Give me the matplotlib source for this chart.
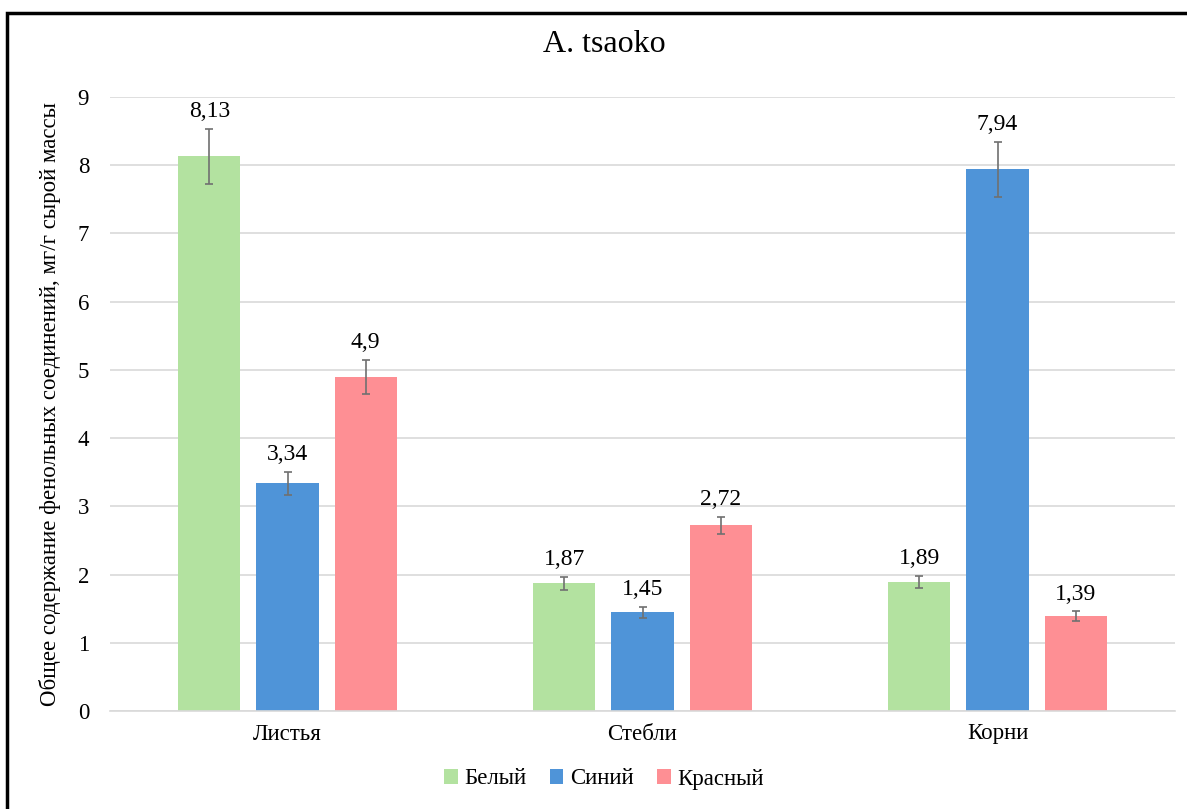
import matplotlib.pyplot as plt
import numpy as np
from matplotlib.patches import Rectangle

plt.rcParams['font.family'] = ['Liberation Serif', 'DejaVu Serif']

categories = ['Листья', 'Стебли', 'Корни']
series = ['Белый', 'Синий', 'Красный']
values = [
    [8.13, 1.87, 1.89],   # Белый
    [3.34, 1.45, 7.94],   # Синий
    [4.90, 2.72, 1.39],   # Красный
]
errors = [
    [0.40, 0.09, 0.09],
    [0.17, 0.08, 0.40],
    [0.25, 0.13, 0.07],
]
labels = [
    ['8,13', '1,87', '1,89'],
    ['3,34', '1,45', '7,94'],
    ['4,9', '2,72', '1,39'],
]
colors = ['#b3e2a0', '#4f94d8', '#fe8f94']

fig = plt.figure(figsize=(11.87, 8.09), dpi=100)
ax = fig.add_axes([110/1187, 1 - 711/809, 1065/1187, 614/809])

x = np.arange(len(categories))
width = 0.175
offset = 0.22
for i, name in enumerate(series):
    pos = x + (i - 1) * offset
    ax.bar(pos, values[i], width, color=colors[i], label=name, zorder=2)
    ax.errorbar(pos, values[i], yerr=errors[i], fmt='none', ecolor='#707070',
                elinewidth=1.2, capsize=3, capthick=1.2, zorder=3)
    for j in range(len(categories)):
        ax.text(pos[j], values[i][j] + errors[i][j] + 0.1, labels[i][j],
                ha='center', va='bottom', fontsize=17)

ax.set_xlim(-0.5, 2.5)
ax.set_ylim(0, 9)
ax.set_yticks(range(10))
ax.set_xticks(x)
ax.set_xticklabels(categories)
ax.tick_params(axis='both', length=0, labelsize=16.5)
ax.tick_params(axis='y', pad=15)
ax.tick_params(axis='x', pad=9)
ax.grid(axis='y', color='#d9d9d9', linewidth=1.2, zorder=0)
for s in ['top', 'right', 'left']:
    ax.spines[s].set_visible(False)
ax.spines['bottom'].set_color('#d9d9d9')
ax.spines['bottom'].set_linewidth(1.2)

ax.set_ylabel('Общее содержание фенольных соединений, мг/г сырой массы', fontsize=16.5, labelpad=12)
fig.text(604/1187, 1 - 45/809, 'A. tsaoko', ha='center', va='center', fontsize=23)

leg = fig.legend(loc='center', bbox_to_anchor=(604/1187, 1 - 779/809), ncol=3,
                 frameon=False, fontsize=16.5, handlelength=0.6, handleheight=0.6,
                 handletextpad=0.3, columnspacing=1.0)

fig.patches.append(Rectangle((7/1187, -0.1), 1.2, 1 - 13/809 + 0.1,
                             transform=fig.transFigure, fill=False,
                             edgecolor='black', linewidth=2.5))

fig.savefig('out.png', dpi=100)
